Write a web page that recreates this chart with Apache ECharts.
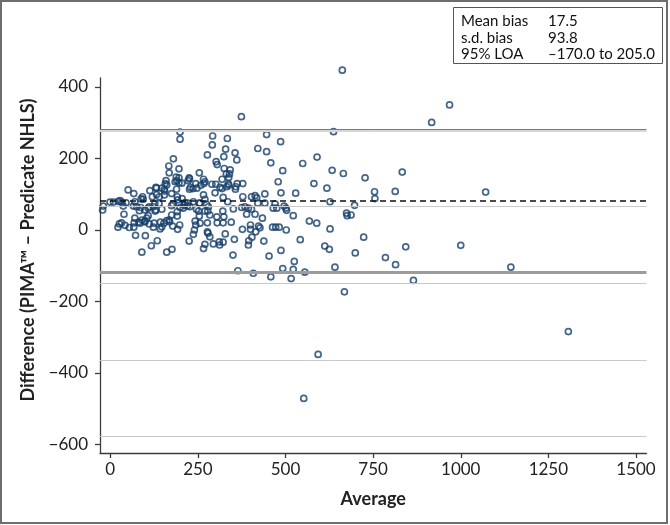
<!DOCTYPE html>
<html><head><meta charset="utf-8">
<script src="https://cdn.jsdelivr.net/npm/echarts@6/dist/echarts.min.js"></script>
<style>html,body{margin:0;padding:0;background:#fff}#c{width:670px;height:525px}</style>
</head><body><div id="c"></div>
<script>
// ---- data (Average, Difference) ----
const avgValues = [
 374,199,199,292,334,446,291,486,329,421,
 180,277,324,356,361,446,458,302,305,167,
 168,196,254,492,325,342,331,340,338,362,
 337,319,378,188,196,190,196,185,225,226,
 222,266,270,267,244,290,301,159,157,161,
 130,204,479,313,319,332,338,358,357,229,
 247,258,236,226,189,147,154,132,113,51,
 67,92,88,94,120,132,140,155,154,175,
 191,205,192,213,211,221,195,179,175,139,
 127,123,130,111,108,99,83,87,70,28,
 23,33,9,-1,45,37,39,-20,-22,66,
 75,378,403,413,418,421,441,487,529,441,
 470,475,465,496,501,522,375,384,394,403,
 389,413,434,351,335,322,321,324,304,299,
 266,270,256,275,280,278,284,270,237,254,
 227,220,246,252,254,242,199,208,191,191,
 175,168,161,143,147,128,108,104,70,90,
 99,
 90,117,134,161,176,72,100,22,225,266,
 270,294,312,311,322,328,354,350,364,408,
 394,395,404,415,438,453,458,487,492,516,
 522,525,542,463,472,482,502,377,400,400,
 423,427,237,240,244,277,279,284,305,322,
 345,277,256,192,198,178,147,142,123,111,
 125,85,98,67,54,42,32,26,68,81,
 169,153,
 662,968,917,637,590,549,633,665,727,833,
 581,618,754,813,755,627,503,697,674,676,
 687,568,589,
 627,612,625,641,699,723,785,814,843,1000,
 865,668,593,552,555,
 1071,1143,1307
];
const diffValues = [
 317,274,254,263,256,267,238,247,226,228,
 199,210,205,216,196,219,188,191,183,179,
 160,171,160,166,172,168,157,157,147,130,
 129,142,130,148,146,138,132,135,146,143,
 138,142,135,130,130,128,128,138,130,126,
 119,131,135,119,116,121,125,121,114,119,
 117,125,116,114,114,117,114,117,110,112,
 102,93,87,86,93,99,93,109,98,102,
 93,88,84,77,69,75,75,73,68,74,
 74,65,56,65,61,56,54,63,79,82,
 80,78,78,78,76,67,44,67,56,67,
 65,93,93,96,90,75,101,104,103,75,
 73,61,61,67,61,40,63,65,61,58,
 44,44,33,59,79,91,53,37,37,104,
 98,86,75,72,65,53,42,53,79,75,
 65,67,58,53,39,25,63,61,51,39,
 42,28,26,22,58,53,40,33,33,28,
 23,
 -62,-44,-30,-62,-54,-15,-16,8,-31,-52,
 -40,-39,-42,-33,-34,-11,-26,-70,-114,-121,
 -42,-30,-20,-5,-31,-73,-131,-57,-108,-136,
 -110,-88,-27,8,8,8,0,2,14,2,
 11,6,-12,0,14,-5,-9,-19,20,20,
 22,20,19,2,14,11,9,3,8,17,
 19,19,25,8,7,13,20,17,20,22,
 23,19,
 447,350,301,275,204,186,167,158,146,162,
 130,117,107,108,88,79,55,69,47,40,
 42,25,19,
 3,-45,-54,-104,-64,-20,-77,-97,-47,-43,
 -141,-173,-348,-471,-118,
 106,-104,-284
];
const xTicks = [0,250,500,750,1000,1250,1500];
const yTicks = [-600,-400,-200,0,200,400];
const refLineValues = [282,278.5,83,66,-117.5,-149,-364,-578];
const statLabels = ['Mean bias','s.d. bias','95% LOA'];
const statValues = ['17.5','93.8','\u2013170.0 to 205.0'];
const xTitle = 'Average';
const yTitle = 'Difference (PIMA\u2122 \u2013 Predicate NHLS)';

// ---- styles ----
const FONT = 'Lato, "Open Sans", sans-serif';
const refStyles = [
  {color:'#7a7a7a', width:1, type:'solid'},
  {color:'#d6d6d6', width:2, type:'solid'},
  {color:'#111111', width:1.5, type:[6,4]},
  {color:'#c9c9c9', width:1.2, type:'solid'},
  {color:'#9c9c9c', width:3, type:'solid'},
  {color:'#c9c9c9', width:1.2, type:'solid'},
  {color:'#c9c9c9', width:1.2, type:'solid'},
  {color:'#c9c9c9', width:1.2, type:'solid'}
];
const axisColor = '#3c3c3c';

const chart = echarts.init(document.getElementById('c'));
const points = avgValues.map((x,i)=>[x, diffValues[i]]);

const legendGraphics = [{
  type:'rect', shape:{x:453.5, y:7.5, width:209, height:56},
  style:{fill:'#fff', stroke:'#555', lineWidth:1}, z:10
}];
statLabels.forEach((t,i)=>{
  legendGraphics.push({type:'text', x:461, y:21.5+i*16.3, z:11,
    style:{text:t, font:'15px '+FONT, fill:'#111', textVerticalAlign:'middle'}});
  legendGraphics.push({type:'text', x:548, y:21.5+i*16.3, z:11,
    style:{text:statValues[i], font:'15px '+FONT, fill:'#111', textVerticalAlign:'middle'}});
});

chart.setOption({
  animation:false,
  backgroundColor:'#fff',
  grid:{left:100, right:23.5, top:78, bottom:72},
  xAxis:{
    type:'value', min:-29.4, max:1530,
    axisLine:{show:true, onZero:false, lineStyle:{color:axisColor, width:1.3}},
    axisTick:{show:true, customValues:xTicks, length:5, lineStyle:{color:axisColor, width:1.3}},
    axisLabel:{customValues:xTicks, fontSize:17, fontFamily:FONT, color:'#222', margin:8,
      formatter:v=>String(v)},
    splitLine:{show:false},
    name:xTitle, nameLocation:'middle', nameGap:37,
    nameTextStyle:{fontSize:18, fontWeight:'bold', fontFamily:FONT, color:'#222'}
  },
  yAxis:{
    type:'value', min:-623.8, max:425.2,
    axisLine:{show:true, onZero:false, lineStyle:{color:axisColor, width:1.3}},
    axisTick:{show:true, customValues:yTicks, length:5, lineStyle:{color:axisColor, width:1.3}},
    axisLabel:{customValues:yTicks, fontSize:17, fontFamily:FONT, color:'#222', margin:12,
      formatter:v=>String(v).replace('-','\u2212')},
    splitLine:{show:false}
  },
  graphic:[
    {type:'rect', shape:{x:1, y:1, width:666, height:522}, style:{fill:null, stroke:'#6e6e6e', lineWidth:2}, z:0, silent:true},
    {type:'text', x:28, y:250, rotation:Math.PI/2, z:5,
      style:{text:yTitle, font:'bold 18px '+FONT, fill:'#222', textAlign:'center', textVerticalAlign:'middle'}}
  ].concat(legendGraphics),
  series:[
    {type:'line', data:[], z:1, silent:true,
      markLine:{silent:true, symbol:'none', animation:false, label:{show:false},
        data:refLineValues.map((v,i)=>({yAxis:v, lineStyle:refStyles[i]}))}},
    {type:'scatter', data:points, z:3, clip:false, symbol:'circle', symbolSize:6,
      itemStyle:{color:'rgba(255,255,255,0)', borderColor:'#17406a', borderWidth:1.7}}
  ]
});
</script></body></html>
